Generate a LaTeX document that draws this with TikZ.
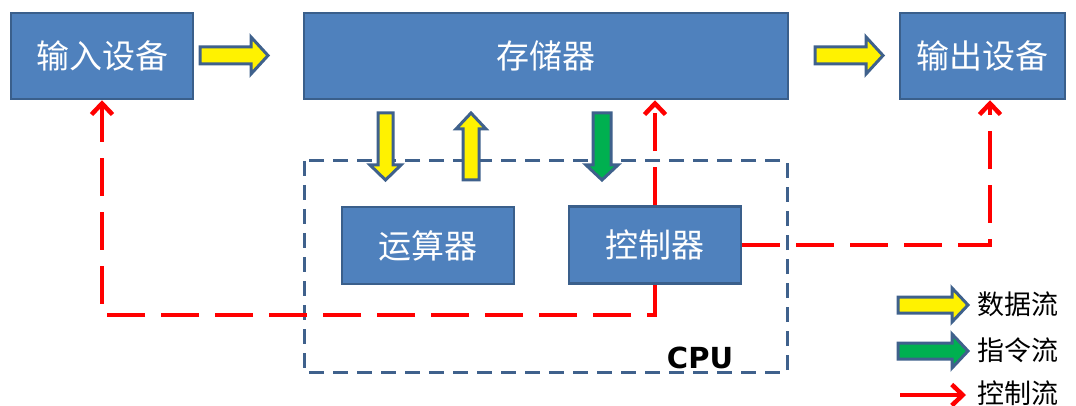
\documentclass[tikz,border=0pt]{standalone}
\usepackage{fontspec}
\newfontfamily\cjk{Noto Sans CJK SC}
\newfontfamily\cpufont{DejaVu Sans}
\usetikzlibrary{arrows.meta}
\definecolor{boxfill}{HTML}{4F81BD}
\definecolor{boxline}{HTML}{3A5F8B}
\definecolor{arrline}{HTML}{3F618C}
\definecolor{ctrlred}{HTML}{FF0000}
\definecolor{instgreen}{HTML}{00B050}
\tikzset{
  unitbox/.style={draw=boxline, fill=boxfill, line width=2.5pt, text=white, font=\cjk\fontsize{33}{33}\selectfont, inner sep=0pt},
  blockarrow/.style={draw=arrline, line width=3pt, line join=miter},
  ctrltip/.style={-{Straight Barb[length=11pt,width=21pt,line width=4.5pt]}},
  ctrl/.style={draw=ctrlred, line width=4.5pt, dash pattern=on 38pt off 16pt, ctrltip},
  cpubox/.style={draw=arrline, line width=3pt, dash pattern=on 15pt off 9pt},
  legendtext/.style={font=\cjk\fontsize{27}{27}\selectfont, anchor=west, inner sep=0pt},
}
\begin{document}
\begin{tikzpicture}[x=1pt,y=-1pt]
\useasboundingbox (0,0) rectangle (1076,406);
% CPU dashed box
\draw[cpubox] (304,161) rectangle (787,372);
\node[font=\cpufont\bfseries\fontsize{29}{29}\selectfont, inner sep=0pt, anchor=base] (cpu) at (700,368) {CPU};
% units
\node[unitbox, minimum width=182pt, minimum height=86pt] (in) at (102,56) {输入设备};
\node[unitbox, minimum width=484pt, minimum height=86pt] (mem) at (546,56) {存储器};
\node[unitbox, minimum width=165pt, minimum height=86pt] (out) at (982.5,56) {输出设备};
\node[unitbox, minimum width=172pt, minimum height=77pt] (alu) at (428,245.5) {运算器};
\node[unitbox, minimum width=172pt, minimum height=77pt] (cu) at (655,245) {控制器};
% horizontal data arrows
\filldraw[blockarrow, fill=yellow] (200,47) -- (251,47) -- (251,37) -- (268,55.5) -- (251,74) -- (251,64) -- (200,64) -- cycle;
\filldraw[blockarrow, fill=yellow] (815,47) -- (866,47) -- (866,37) -- (883,55.5) -- (866,74) -- (866,64) -- (815,64) -- cycle;
% vertical arrows
\filldraw[blockarrow, fill=yellow] (378,113) -- (393,113) -- (393,165) -- (401,165) -- (385.5,180) -- (370,165) -- (378,165) -- cycle;
\filldraw[blockarrow, fill=yellow] (463,180) -- (479,180) -- (479,129) -- (486,129) -- (471,113) -- (456,129) -- (463,129) -- cycle;
\filldraw[blockarrow, fill=instgreen] (593,113) -- (611,113) -- (611,165) -- (618,165) -- (602,180) -- (586,165) -- (593,165) -- cycle;
% control flows
\draw[ctrl] (cu.north) -- (cu.north |- mem.south);
\draw[ctrl] (cu.south) -- ++(0,30) -| (in.south);
\draw[ctrl] (cu.east) -| (out.south -| 990,0);
% legend
\filldraw[blockarrow, fill=yellow] (898,297) -- (952,297) -- (952,288) -- (968,305) -- (952,322) -- (952,313) -- (898,313) -- cycle;
\filldraw[blockarrow, fill=instgreen] (898,343) -- (952,343) -- (952,334) -- (968,351) -- (952,368) -- (952,359) -- (898,359) -- cycle;
\coordinate (lgs) at (900,395);
\coordinate (lge) at (966,395);
\draw[draw=ctrlred, line width=4.5pt, ctrltip] (lgs) -- (lge);
\node[legendtext] (l1) at (977,304) {数据流};
\node[legendtext] (l2) at (977,350) {指令流};
\node[legendtext] (l3) at (977,393) {控制流};
\end{tikzpicture}
\end{document}
